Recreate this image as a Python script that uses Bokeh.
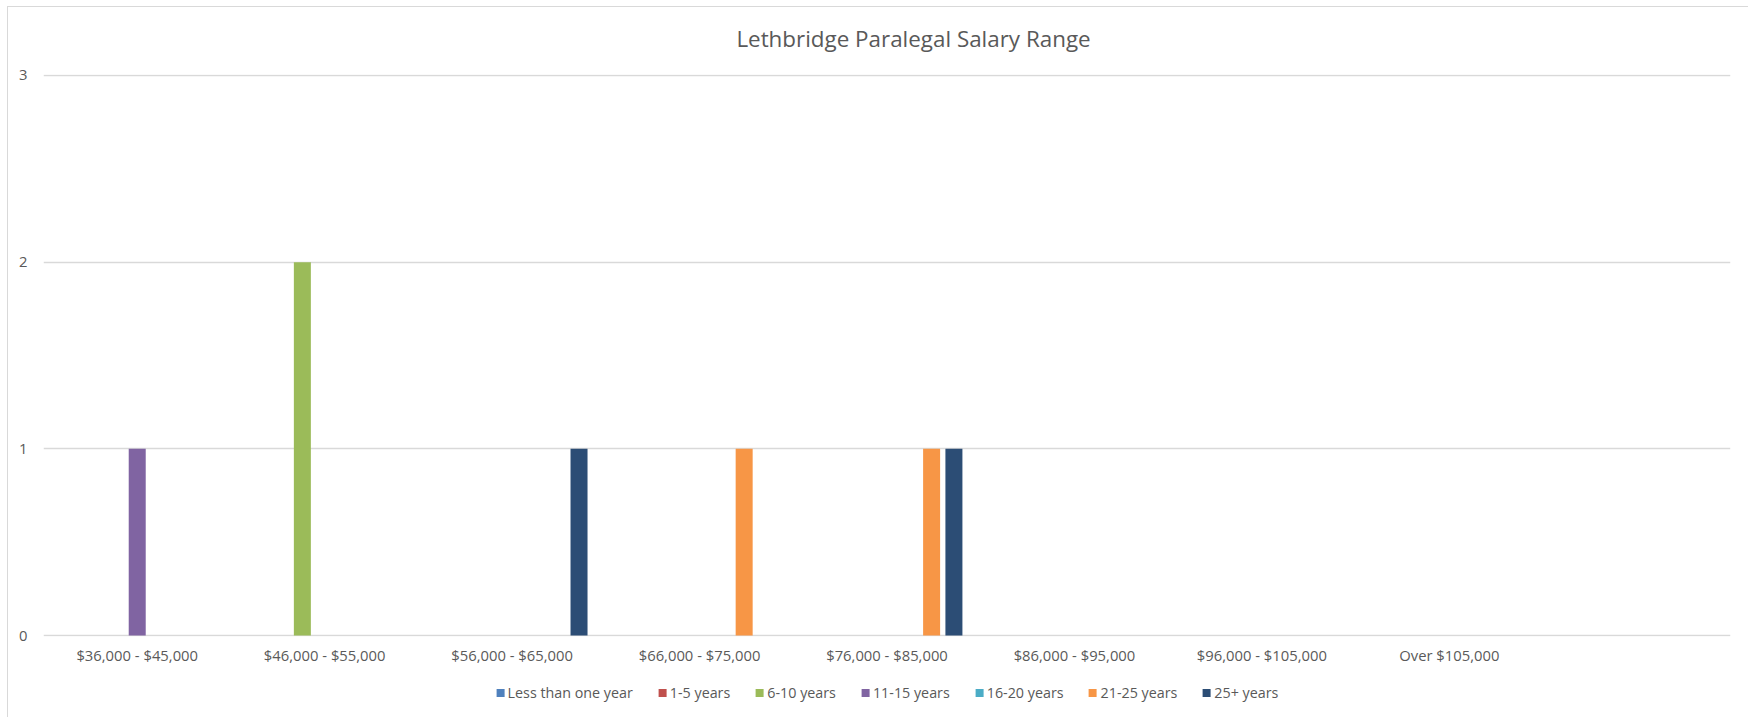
from bokeh.plotting import figure
from bokeh.models import FactorRange, Legend, LegendItem, FixedTicker, Range1d, Label
from bokeh.layouts import column
from bokeh.transform import dodge
from bokeh.embed import file_html
from bokeh.resources import INLINE

categories = ["$36,000 - $45,000", "$46,000 - $55,000", "$56,000 - $65,000",
              "$66,000 - $75,000", "$76,000 - $85,000", "$86,000 - $95,000",
              "$96,000 - $105,000", "Over $105,000", " "]
series_names = ["Less than one year", "1-5 years", "6-10 years", "11-15 years",
                "16-20 years", "21-25 years", "25+ years"]
less_than_one = [0, 0, 0, 0, 0, 0, 0, 0, 0]
y1_5 = [0, 0, 0, 0, 0, 0, 0, 0, 0]
y6_10 = [0, 2, 0, 0, 0, 0, 0, 0, 0]
y11_15 = [1, 0, 0, 0, 0, 0, 0, 0, 0]
y16_20 = [0, 0, 0, 0, 0, 0, 0, 0, 0]
y21_25 = [0, 0, 0, 1, 1, 0, 0, 0, 0]
y25_plus = [0, 0, 1, 0, 1, 0, 0, 0, 0]
colors = ["#4F81BD", "#C0504D", "#9BBB59", "#8064A2", "#4BACC6", "#F79646", "#2C4D75"]
y_ticks = [0, 1, 2, 3]
title_text = "Lethbridge Paralegal Salary Range"

all_series = [less_than_one, y1_5, y6_10, y11_15, y16_20, y21_25, y25_plus]

FONT = "Open Sans"
TXT = "#595959"
GRID = "#D9D9D9"

data = {"cat": categories}
for i, s in enumerate(all_series):
    data[f"s{i}"] = s

x_range = FactorRange(factors=categories, range_padding=0)

# title strip
tp = figure(x_range=(0, 1), y_range=(0, 1), width=1741, height=60,
            output_backend="svg", toolbar_location=None, min_border=0)
tp.axis.visible = False
tp.grid.visible = False
tp.outline_line_color = None
tp.add_layout(Label(x=870, y=29, x_units="screen", y_units="screen", text=title_text,
                    text_font=FONT, text_font_size="22.4px", text_color=TXT,
                    text_align="center", text_baseline="middle"))
tp.styles = {"margin-left": "7px", "margin-top": "6px",
             "border-top": "1px solid #D9D9D9", "border-left": "1px solid #D9D9D9"}

# main chart
p = figure(x_range=x_range, y_range=Range1d(-0.005, 3.005),
           width=1741, height=601, output_backend="svg", toolbar_location=None,
           min_border_left=35, min_border_right=19, min_border_top=8, min_border_bottom=30)
p.title = None

spacing = 0.119
bw = 0.0907
for i, s in enumerate(all_series):
    p.vbar(x=dodge("cat", (i - 3) * spacing, range=x_range), top=f"s{i}",
           width=bw, source=data, fill_color=colors[i], line_color=None)

p.outline_line_color = None
p.xgrid.grid_line_color = None
p.ygrid.grid_line_color = GRID
p.ygrid.grid_line_width = 1.3
p.yaxis.ticker = FixedTicker(ticks=y_ticks)
for ax in (p.xaxis[0], p.yaxis[0]):
    ax.axis_line_color = None
    ax.major_tick_line_color = None
    ax.minor_tick_line_color = None
    ax.major_tick_out = 0
    ax.major_tick_in = 0
    ax.minor_tick_out = 0
    ax.major_label_text_font = FONT
    ax.major_label_text_font_size = "14.8px"
    ax.major_label_text_color = TXT
p.yaxis.major_label_standoff = 16
p.xaxis.major_label_standoff = 8
p.xaxis.major_label_orientation = "horizontal"
p.styles = {"margin-left": "7px", "border-left": "1px solid #D9D9D9"}

# legend strip below the chart (same data, bars kept outside its visible range)
lg = figure(x_range=x_range, y_range=Range1d(10, 11),
            width=1741, height=50, output_backend="svg", toolbar_location=None,
            min_border_left=0, min_border_right=10, min_border_top=0, min_border_bottom=0)
lg_renderers = []
for i, s in enumerate(all_series):
    r = lg.vbar(x=dodge("cat", (i - 3) * spacing, range=x_range), top=f"s{i}",
                width=bw, source=data, fill_color=colors[i], line_color=None)
    lg_renderers.append(r)
lg.axis.visible = False
lg.grid.visible = False
lg.outline_line_color = None
items = [LegendItem(label=n, renderers=[r]) for n, r in zip(series_names, lg_renderers)]
legend = Legend(items=items, orientation="horizontal", location="center",
                label_text_font=FONT, label_text_font_size="14.3px", label_text_color=TXT,
                glyph_width=10, glyph_height=10, label_standoff=3, spacing=24,
                border_line_color=None, background_fill_alpha=0, padding=4, margin=0,
                label_height=14)
lg.add_layout(legend, "center")
lg.styles = {"margin-left": "7px", "border-left": "1px solid #D9D9D9"}

layout = column(tp, p, lg, spacing=0)
open("out.html", "w").write(file_html(layout, INLINE))
